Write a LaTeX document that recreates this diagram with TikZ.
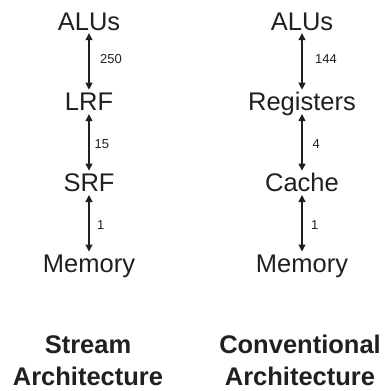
\documentclass[tikz,border=0pt]{standalone}
\usepackage{fontspec}
\setmainfont{Liberation Sans}
\usetikzlibrary{positioning,arrows.meta}
\definecolor{ink}{HTML}{231F20}
\tikzset{level/.style={text=ink, font=\fontsize{25.5pt}{30pt}\selectfont, text height=20pt, text depth=2pt, inner sep=1pt},
  link/.style={draw=ink, line width=1.1pt, {Triangle[length=7pt,width=7pt]}-{Triangle[length=7pt,width=7pt]}},
  bw/.style={text=ink, font=\fontsize{13pt}{15pt}\selectfont, inner sep=0pt},
  title/.style={text=ink, align=center, font=\fontsize{25.5pt}{32pt}\selectfont\bfseries}}

\begin{document}
\begin{tikzpicture}[x=1pt, y=-1pt, node distance=56.5pt]
\useasboundingbox (0,0) rectangle (386,391);

% stream
\node[level, anchor=base] (s-alu) at (89,30) {ALUs};
\node[level, below=of s-alu] (s-lrf) {LRF};
\node[level, below=of s-lrf] (s-srf) {SRF};
\node[level, below=of s-srf] (s-mem) {Memory};
\draw[link] (s-alu) -- node[bw, right=10.5pt, yshift=2pt] {250} (s-lrf);
\draw[link] (s-lrf) -- node[bw, right=5pt, yshift=-2pt] {15} (s-srf);
\draw[link] (s-srf) -- node[bw, right=7.5pt, yshift=-2pt] {1} (s-mem);

% conventional
\node[level, anchor=base] (c-alu) at (302,30) {ALUs};
\node[level, below=of c-alu] (c-reg) {Registers};
\node[level, below=of c-reg] (c-cache) {Cache};
\node[level, below=of c-cache] (c-mem) {Memory};
\draw[link] (c-alu) -- node[bw, right=12.5pt, yshift=2pt] {144} (c-reg);
\draw[link] (c-reg) -- node[bw, right=10pt, yshift=-2pt] {4} (c-cache);
\draw[link] (c-cache) -- node[bw, right=8.5pt, yshift=-2pt] {1} (c-mem);

\node[title, anchor=base] (s-title) at (88,385) {Stream\\Architecture};
\node[title, anchor=base] (c-title) at (300,385) {Conventional\\Architecture};
\end{tikzpicture}
\end{document}
